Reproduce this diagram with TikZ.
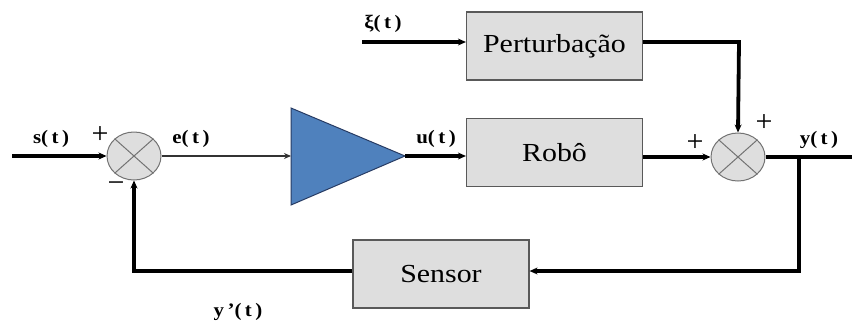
\documentclass[tikz,border=0pt]{standalone}
\usepackage{fontspec}
\setmainfont{Liberation Serif}
\usetikzlibrary{arrows.meta,shapes.geometric}
\begin{document}
\begin{tikzpicture}[x=1pt,y=-1pt,
  blk/.style={draw=black!65,line width=1.2pt,fill=black!13,minimum width=176pt,minimum height=68pt,
    inner sep=0pt},
  blktxt/.style={font=\fontsize{26}{28}\selectfont,xscale=1.15},
  sumj/.style={ellipse,draw=black!55,line width=1pt,fill=black!13,minimum width=54pt,minimum height=48pt,inner sep=0pt},
  wire/.style={line width=3.8pt,line cap=butt},
  arr/.style={wire,-{Stealth[length=8pt,width=7pt]}},
  sig/.style={font=\bfseries\fontsize{19}{21}\selectfont,xscale=1.1,inner sep=0pt},
  sgn/.style={font=\fontsize{30}{30}\selectfont,inner sep=0pt}]
\useasboundingbox (0,0) rectangle (852,327);

% blocks
\node[blk] (pert) at (554.5,46) {};
\node[blktxt] at (pert.center) {Perturbação};
\node[blk] (robo) at (554.5,152.5) {};
\node[blktxt] at (robo.center) {Robô};
\node[blk] (sens) at (441,274) {};
\node[blktxt] at (sens.center) {Sensor};

% summing junctions
\node[sumj] (s1) at (134,156) {};
\draw[black!55,line width=1pt] (s1.north east) -- (s1.south west) (s1.north west) -- (s1.south east);
\node[sumj] (s2) at (738,157) {};
\draw[black!55,line width=1pt] (s2.north east) -- (s2.south west) (s2.north west) -- (s2.south east);

% amplifier
\coordinate (ampin) at (291,156);
\coordinate (amptip) at (405,156);
\draw[fill={rgb,255:red,79;green,129;blue,189},draw={rgb,255:red,40;green,60;blue,100},line width=1pt]
  (291,108) -- (amptip) -- (291,205) -- cycle;

% free ends
\coordinate (sin) at (12,156);
\coordinate (xin) at (362,42);
\coordinate (yout) at (852,157);
\coordinate (br) at (799,157);
\coordinate (brd) at (799,271);
\coordinate (fbc) at (134,271);
\coordinate (pc) at (739,42);

% connectors
\draw[arr] (sin) -- (s1.west);
\draw[line width=2.2pt,-{Stealth[length=7pt,width=6pt]},black!80] (s1.east) -- (ampin);
\draw[arr] (amptip) -- (robo.west|-amptip);
\draw[arr] (xin) -- (pert.west|-xin);
\draw[arr] (pert.east|-pc) -- (pc) -- (s2.north);
\draw[arr] (robo.east|-s2.west) -- (s2.west);
\draw[wire] (s2.east) -- (yout);
\draw[arr] (br) -- (brd) -- (sens.east|-brd);
\draw[arr] (sens.west|-brd) -- (fbc) -- (s1.south);

% labels
\node[sig] at (51,139) {s(\,t\,)};
\node[sig] at (191,139) {e(\,t\,)};
\node[sig] at (436,139) {u(\,t\,)};
\node[sig] at (383,24) {ξ(\,t\,)};
\node[sig] at (819,140) {y(\,t\,)};
\node[sig] at (238,312) {y\,'(\,t\,)};

% signs
\node[sgn] at (100,135) {+};
\node[sgn] at (116,187) {\textminus};
\node[sgn] at (695,143) {+};
\node[sgn] at (764,123) {+};
\end{tikzpicture}
\end{document}
